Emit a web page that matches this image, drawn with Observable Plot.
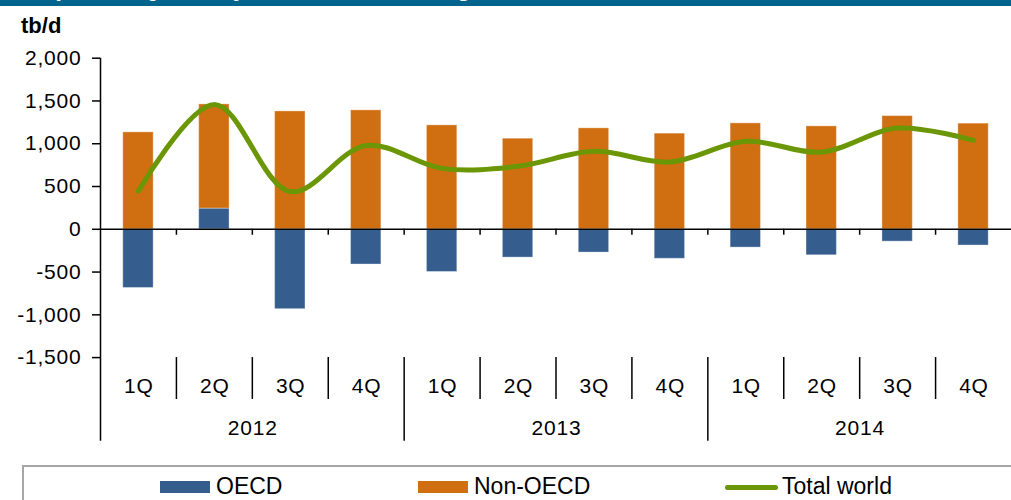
<!DOCTYPE html>
<html>
<head>
<meta charset="utf-8">
<script src="https://cdn.jsdelivr.net/npm/d3@7"></script>
<script src="https://cdn.jsdelivr.net/npm/@observablehq/plot@0.6"></script>
<style>
  body { margin:0; background:#fff; width:1011px; height:500px; overflow:hidden; position:relative; font-family:"Liberation Sans", Arial, sans-serif; }
  #banner { position:absolute; left:0; top:0; width:1011px; height:6px; background:#02638c; overflow:hidden; }
  #banner span { position:absolute; left:14px; top:-24px; line-height:24px; color:#fff; font-weight:bold; font-size:24px; white-space:nowrap; }
  #unit { position:absolute; left:21px; top:14px; font-weight:bold; font-size:22px; line-height:24px; color:#000; }
  #chart { position:absolute; left:0; top:40px; }
  #legendBox { position:absolute; left:22px; top:465px; width:1000px; height:40px; border:2px solid #a6a6a6; border-right:none; border-bottom:none; }
  .sw { position:absolute; top:481px; height:12px; }
  .lt { position:absolute; top:474.5px; font-size:23px; line-height:23px; color:#000; white-space:nowrap; }
  .ln { position:absolute; top:485px; height:5px; border-radius:3px; }
</style>
</head>
<body>
<div id="banner"><span>Graph 4.1: Quarterly world oil demand growth</span></div>
<div id="unit">tb/d</div>
<div id="chart"></div>
<div id="legendBox"></div>
<div id="legend"></div>
<script>
// ---- data ----
const years = ["2012", "2013", "2014"];
const quarters = ["1Q", "2Q", "3Q", "4Q"];
const oecd     = [-686,  242, -934, -412, -499, -331, -272, -345, -214, -304, -144, -190];
const nonOecd  = [1133, 1218, 1378, 1390, 1215, 1059, 1180, 1118, 1238, 1203, 1323, 1235];
const totalWorld = [447, 1460, 440, 980, 712, 736, 911, 786, 1028, 903, 1183, 1040];
const yTicks = [-1500, -1000, -500, 0, 500, 1000, 1500, 2000];
const seriesNames = ["OECD", "Non-OECD", "Total world"];
const colors = ["#355e8f", "#d06e12", "#6b9605"];

// ---- derived tables ----
const keys = years.flatMap(y => quarters.map(q => `${y} ${q}`));
const barRows = keys.flatMap((k, i) => [
  {key: k, series: seriesNames[0], value: oecd[i]},
  {key: k, series: seriesNames[1], value: nonOecd[i]}
]);
const lineRows = keys.map((k, i) => ({key: k, value: totalWorld[i]}));
const quarterOf = k => k.split(" ")[1];
const yearOf = k => k.split(" ")[0];

const width = 1011, height = 422;
const marginLeft = 100, marginRight = 0, marginTop = 17.7, marginBottom = 104.9;
const step = (width - marginLeft - marginRight) / keys.length;
const half = step / 2;

// separators
const innerSep = keys.filter((k, i) => i < keys.length - 1 && quarterOf(k) !== "4Q");
const yearSep = keys.filter((k, i) => i < keys.length - 1 && quarterOf(k) === "4Q");
const yearCenters = keys.filter(k => quarterOf(k) === "2Q");

const fmt = d => (d < 0 ? "-" : "") + d3.format(",")(Math.abs(d));

const chart = Plot.plot({
  width, height, marginLeft, marginRight, marginTop, marginBottom,
  style: {fontFamily: "Liberation Sans, Arial, sans-serif", fontSize: "21px", letterSpacing: "0.8px", color: "#000", background: "transparent"},
  x: {domain: keys, paddingInner: 0.6, paddingOuter: 0.3, round: false, axis: null},
  y: {domain: [-1500, 2000], axis: null},
  color: {domain: seriesNames.slice(0, 2), range: colors.slice(0, 2)},
  marks: [
    Plot.barY(barRows, Plot.stackY({x: "key", y: "value", fill: "series", order: seriesNames.slice(0, 2),
      stroke: "#ffffff", strokeOpacity: 0.35, strokeWidth: 1})),
    Plot.ruleY([0], {stroke: "#000", strokeWidth: 1.5}),
    Plot.ruleX(keys.slice(0, keys.length - 1), {x: d => d, y1: () => 0, y2: () => -70, dx: half, stroke: "#000", strokeWidth: 1.5}),
    Plot.ruleX([keys[0]], {x: d => d, y1: () => 2000, y2: () => -2477, dx: -half, stroke: "#000", strokeWidth: 1.5}),
    Plot.ruleX(innerSep, {x: d => d, y1: () => -1500, y2: () => -1990, dx: half, stroke: "#000", strokeWidth: 1.5}),
    Plot.ruleX(yearSep, {x: d => d, y1: () => -1500, y2: () => -2477, dx: half, stroke: "#000", strokeWidth: 1.5}),
    Plot.axisY({ticks: yTicks, tickSize: 8, tickPadding: 11, tickFormat: fmt, label: null, stroke: "#000", strokeWidth: 1.5, fill: "#000"}),
    Plot.line(lineRows, {x: "key", y: "value", stroke: colors[2], strokeWidth: 5, curve: "catmull-rom", strokeLinecap: "round"}),
    Plot.text(keys, {x: d => d, y: () => -1500, dy: 28.6, dx: 0.4, text: quarterOf, fill: "#000", lineAnchor: "middle"}),
    Plot.text(yearCenters, {x: d => d, y: () => -1500, dy: 70.9, dx: half + 0.4, text: yearOf, fill: "#000", lineAnchor: "middle"})
  ]
});
document.getElementById("chart").appendChild(chart);

// legend
const legend = document.getElementById("legend");
const items = [
  {name: seriesNames[0], color: colors[0], kind: "sw", left: 160, w: 50, textLeft: 216},
  {name: seriesNames[1], color: colors[1], kind: "sw", left: 418, w: 50, textLeft: 474},
  {name: seriesNames[2], color: colors[2], kind: "ln", left: 725, w: 53, textLeft: 782}
];
for (const it of items) {
  const s = document.createElement("div");
  s.className = it.kind;
  s.style.left = it.left + "px";
  s.style.width = it.w + "px";
  s.style.background = it.color;
  legend.appendChild(s);
  const t = document.createElement("div");
  t.className = "lt";
  t.style.left = it.textLeft + "px";
  t.textContent = it.name;
  legend.appendChild(t);
}
</script>
</body>
</html>
